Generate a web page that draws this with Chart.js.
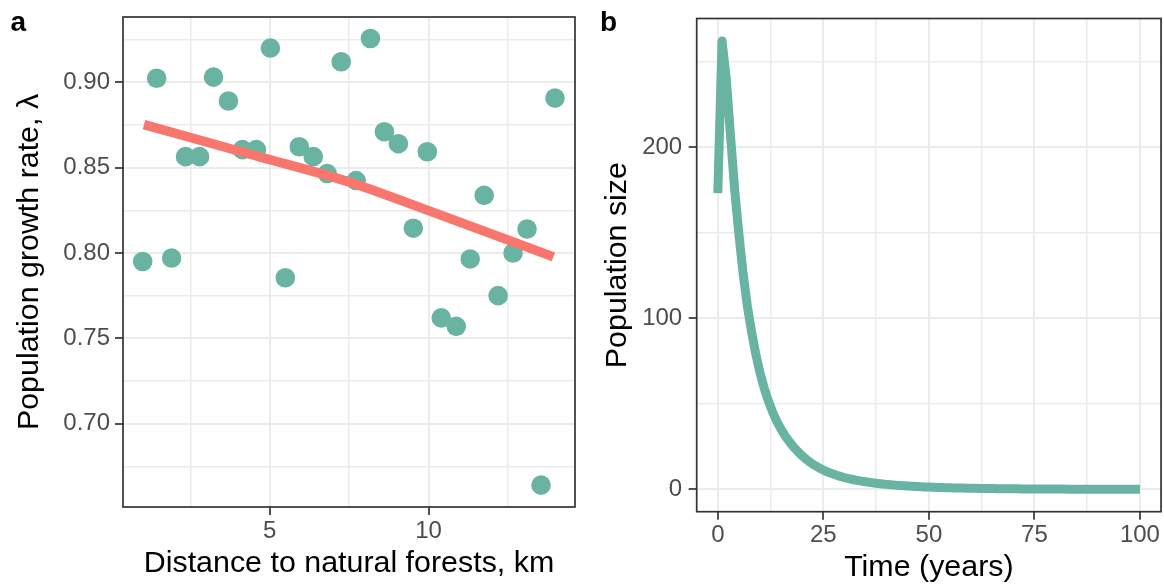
<!DOCTYPE html>
<html>
<head>
<meta charset="utf-8">
<script src="https://cdn.jsdelivr.net/npm/chart.js@4.4.1/dist/chart.umd.min.js"></script>
<style>
  html, body { margin: 0; padding: 0; background: #ffffff; }
  #wrap { position: relative; width: 1164px; height: 585px; overflow: hidden; background: #fff; }
  canvas { position: absolute; top: 0; }
  .lab { position: absolute; font-family: "Liberation Sans", Arial, sans-serif; font-weight: bold; font-size: 28px; line-height: 28px; color: #000; }
</style>
</head>
<body>
<div id="wrap">
  <canvas id="cA" width="590" height="585" style="left:0px;width:590px;height:585px"></canvas>
  <canvas id="cB" width="574" height="585" style="left:590px;width:574px;height:585px"></canvas>
  <div class="lab" style="left:10.5px;top:7.5px">a</div>
  <div class="lab" style="left:600px;top:7.5px">b</div>
</div>
<script>
// ---------- Panel a data ----------
const distanceKm = [1.00, 1.44, 1.91, 2.35, 2.79, 3.23, 3.70, 4.14, 4.58, 5.02,
                    5.49, 5.93, 6.37, 6.81, 7.25, 7.72, 8.17, 8.61, 9.05, 9.52,
                    9.96, 10.40, 10.87, 11.31, 11.75, 12.19, 12.66, 13.10, 13.54, 13.98];
const growthRate = [0.795, 0.9023, 0.797, 0.8564, 0.8564, 0.903, 0.889, 0.8605, 0.8605, 0.920,
                    0.7855, 0.8622, 0.8564, 0.8465, 0.912, 0.8424, 0.9256, 0.871, 0.864, 0.8145,
                    0.8593, 0.762, 0.757, 0.7965, 0.8337, 0.775, 0.800, 0.814, 0.664, 0.8907];
const fitDistance = [1.04, 4.5, 7.54, 10.0, 13.93];
const fitRate = [0.8752, 0.8572, 0.8413, 0.8248, 0.7977];

const xMajorA = [5, 10];
const xMajorLabelsA = ['5', '10'];
const xMinorA = [2.5, 7.5, 12.5];
const yMajorA = [0.70, 0.75, 0.80, 0.85, 0.90];
const yMajorLabelsA = ['0.70', '0.75', '0.80', '0.85', '0.90'];
const yMinorA = [0.675, 0.725, 0.775, 0.825, 0.875, 0.925];

// ---------- Panel b data ----------
const years = [0,1,2,3,4,5,6,7,8,9,10,11,12,13,14,15,16,17,18,19,20,
               21,22,23,24,25,26,27,28,29,30,31,32,33,34,35,36,37,38,39,40,
               41,42,43,44,45,46,47,48,49,50,51,52,53,54,55,56,57,58,59,60,
               61,62,63,64,65,66,67,68,69,70,71,72,73,74,75,76,77,78,79,80,
               81,82,83,84,85,86,87,88,89,90,91,92,93,94,95,96,97,98,99,100];
const popSize = [173, 262, 240, 207, 175, 149, 126, 107, 92, 79, 68,
                 59, 51.5, 45, 39.5, 35, 31, 27.7, 24.6, 21.9, 19.5,
                 17.4, 15.55, 13.93, 12.5, 11.25, 10.15, 9.17, 8.31, 7.54, 6.86,
                 6.25, 5.71, 5.22, 4.78, 4.38, 4.02, 3.69, 3.39, 3.12, 2.87,
                 2.64, 2.43, 2.24, 2.06, 1.9, 1.75, 1.61, 1.49, 1.37, 1.27,
                 1.17, 1.08, 1.0, 0.93, 0.86, 0.79, 0.73, 0.68, 0.63, 0.58,
                 0.54, 0.5, 0.46, 0.43, 0.4, 0.37, 0.34, 0.32, 0.29, 0.27,
                 0.25, 0.23, 0.21, 0.19, 0.18, 0.16, 0.15, 0.14, 0.13, 0.12,
                 0.11, 0.1, 0.09, 0.08, 0.08, 0.07, 0.07, 0.06, 0.06, 0.05,
                 0.05, 0.04, 0.04, 0.04, 0.03, 0.03, 0.03, 0.03, 0.02, 0.02];

const xMajorB = [0, 25, 50, 75, 100];
const xMajorLabelsB = ['0', '25', '50', '75', '100'];
const xMinorB = [12.5, 37.5, 62.5, 87.5];
const yMajorB = [0, 100, 200];
const yMajorLabelsB = ['0', '100', '200'];
const yMinorB = [50, 150, 250];

// ---------- styling ----------
const FONT = '"Liberation Sans", Arial, Helvetica, sans-serif';
const TEAL = '#69b3a2';
const SALMON = '#f8766d';
const GRID = '#ebebeb';
const DARK = '#333333';
const TICKTXT = '#4d4d4d';

function findIdx(arr, v) {
  for (let i = 0; i < arr.length; i++) if (Math.abs(arr[i] - v) < 1e-9) return i;
  return -1;
}

function axisOpts(cfg) {
  return {
    type: 'linear',
    position: cfg.position,
    min: cfg.min, max: cfg.max,
    afterBuildTicks: (scale) => {
      const all = cfg.major.concat(cfg.minor).sort((a, b) => a - b);
      scale.ticks = all.map(v => ({ value: v }));
    },
    afterFit: (scale) => {
      if (cfg.position === 'left') scale.width = cfg.size; else scale.height = cfg.size;
    },
    ticks: {
      autoSkip: false, maxRotation: 0, minRotation: 0,
      padding: cfg.tickPad,
      color: TICKTXT,
      font: { family: FONT, size: 24, lineHeight: 1 },
      callback: (value) => {
        const i = findIdx(cfg.major, value);
        return i >= 0 ? cfg.labels[i] : '';
      }
    },
    grid: {
      color: GRID,
      lineWidth: (ctx) => (ctx.tick && findIdx(cfg.major, ctx.tick.value) >= 0) ? 2 : 1.5,
      drawTicks: true,
      tickLength: 8,
      tickWidth: 1.7,
      tickColor: (ctx) => (ctx.tick && findIdx(cfg.major, ctx.tick.value) >= 0) ? DARK : 'rgba(0,0,0,0)'
    },
    border: { display: false },
    title: {
      display: true,
      text: cfg.title,
      color: '#000000',
      font: { family: FONT, size: 30.4, lineHeight: 1 },
      padding: cfg.titlePad
    }
  };
}

const panelBorder = {
  id: 'panelBorder',
  afterDatasetsDraw(chart) {
    const { ctx, chartArea: a } = chart;
    ctx.save();
    ctx.strokeStyle = DARK;
    ctx.lineWidth = 1.7;
    ctx.strokeRect(a.left, a.top, a.right - a.left, a.bottom - a.top);
    ctx.restore();
  }
};

// ---------- Panel a ----------
new Chart(document.getElementById('cA'), {
  type: 'scatter',
  data: {
    datasets: [
      {
        type: 'line',
        label: 'fit',
        data: fitDistance.map((x, i) => ({ x: x, y: fitRate[i] })),
        borderColor: SALMON,
        borderWidth: 9.5,
        borderCapStyle: 'butt',
        pointRadius: 0,
        tension: 0.4,
        cubicInterpolationMode: 'monotone',
        fill: false,
        order: 0
      },
      {
        label: 'sites',
        data: distanceKm.map((x, i) => ({ x: x, y: growthRate[i] })),
        backgroundColor: TEAL,
        borderColor: TEAL,
        borderWidth: 0,
        pointRadius: 9.8,
        pointHoverRadius: 9.8,
        order: 1
      }
    ]
  },
  options: {
    responsive: false,
    devicePixelRatio: 1,
    animation: false,
    events: [],
    layout: { padding: { left: 0, top: 14, right: 15, bottom: 0 } },
    plugins: { legend: { display: false }, tooltip: { enabled: false } },
    scales: {
      x: axisOpts({ position: 'bottom', min: 0.38, max: 14.61, major: xMajorA, labels: xMajorLabelsA, minor: xMinorA,
                    size: 78, tickPad: 4.5, title: 'Distance to natural forests, km', titlePad: { top: 0, bottom: 6.3 } }),
      y: axisOpts({ position: 'left', min: 0.6512, max: 0.9382, major: yMajorA, labels: yMajorLabelsA, minor: yMinorA,
                    size: 123, tickPad: 5, title: 'Population growth rate, λ', titlePad: { top: 14.2, bottom: 0 } })
    }
  },
  plugins: [panelBorder]
});

// ---------- Panel b ----------
new Chart(document.getElementById('cB'), {
  type: 'line',
  data: {
    datasets: [{
      label: 'N',
      data: years.map((t, i) => ({ x: t, y: popSize[i] })),
      borderColor: TEAL,
      borderWidth: 9,
      borderCapStyle: 'butt',
      borderJoinStyle: 'round',
      pointRadius: 0,
      tension: 0,
      fill: false
    }]
  },
  options: {
    responsive: false,
    devicePixelRatio: 1,
    animation: false,
    events: [],
    layout: { padding: { left: 0, top: 14, right: 0.7, bottom: 0 } },
    plugins: { legend: { display: false }, tooltip: { enabled: false } },
    scales: {
      x: axisOpts({ position: 'bottom', min: -5, max: 105, major: xMajorB, labels: xMajorLabelsB, minor: xMinorB,
                    size: 73.3, tickPad: 4, title: 'Time (years)', titlePad: { top: 0, bottom: 2.3 } }),
      y: axisOpts({ position: 'left', min: -13.1, max: 275.1, major: yMajorB, labels: yMajorLabelsB, minor: yMinorB,
                    size: 106.7, tickPad: 6.5, title: 'Population size', titlePad: { top: 12.6, bottom: 0 } })
    }
  },
  plugins: [panelBorder]
});
</script>
</body>
</html>
